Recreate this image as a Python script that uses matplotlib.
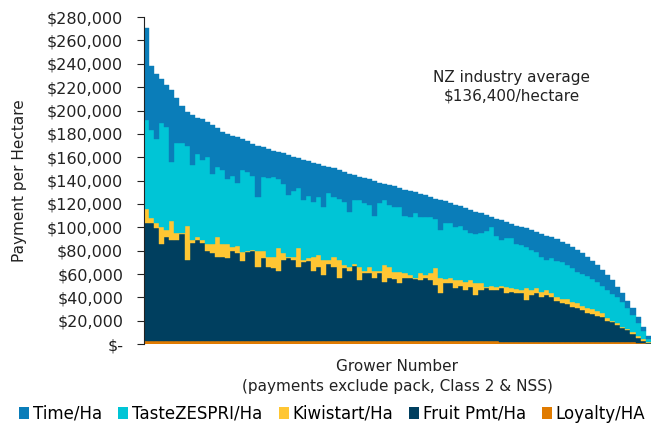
import numpy as np
import matplotlib
matplotlib.use("Agg")
import matplotlib.pyplot as plt
from matplotlib.patches import Patch
from matplotlib.ticker import FuncFormatter

# payment per hectare by grower, sorted by total ($000/ha)
time_ha = [79, 55, 55, 38, 36, 62, 39, 32, 29, 43, 31, 34.5, 30, 41.5, 33, 33, 39, 34, 39, 26.5,
           26.5, 27.5, 44, 25.5, 25, 22.5, 23.5, 26.5, 34, 29.5, 25, 34.5, 29.5, 33.5, 28, 35.5, 22.5, 24.5, 25, 25.5,
           33, 22, 20.5, 21.5, 22, 29.5, 17, 14, 17, 18, 16.5, 22, 22, 18, 19.5, 18.5, 17, 17.5, 25.5, 18.5,
           17, 19.5, 17, 18.5, 20, 19.5, 17, 13.5, 9, 14.5, 17, 13.5, 12, 15.5, 15, 16, 16.5, 17, 19.5, 21,
           17.5, 19, 17.5, 17.5, 18.5, 18.5, 18, 16.5, 15.5, 14.5, 13.5, 13.5, 12, 9, 7.5, 6, 6, 5, 4, 3]
taste_ha = [76, 75, 72, 89, 88, 51, 77, 77, 69, 64, 71, 69, 74, 60, 60, 63, 55, 61, 54, 70,
            67, 63, 46, 63, 67, 68, 59, 59, 53, 56, 52, 51, 53, 47, 50, 45, 57, 51, 52, 54,
            47, 54, 57, 58, 53, 47, 58, 55, 53, 55, 55, 49, 50, 55, 48, 50, 48, 42, 41, 48,
            47, 45, 46, 45, 40, 42, 43, 48, 50, 44, 39, 42, 43, 39, 39, 35, 35, 31, 30, 26,
            30, 31, 31, 29, 29, 27, 27, 27, 26, 25, 23, 24, 23, 22, 21, 18, 15, 11, 7, 2.5]
kiwistart_ha = [12, 4, 5, 14, 6, 16, 6, 1, 29, 2, 3, 2, 6, 8, 17, 11, 12, 3, 6, 8,
                1, 1, 14, 6, 9, 10, 19, 6, 1, 3, 16, 2, 3, 12, 10, 13, 3, 9, 15, 3,
                3, 2, 11, 2, 5, 6, 2, 15, 9, 6, 10, 4, 2, 1, 6, 2, 6, 14, 13, 4,
                5, 7, 5, 7, 6, 10, 6, 1, 4, 3, 2, 5, 3, 3, 2, 10, 4, 4, 5, 4,
                4, 3, 4, 5, 4, 4, 4, 4, 4, 4, 4, 2, 1, 1.5, 1, 1, 1.5, 1.5, 1, 0.5]
fruit_ha = [101, 101, 96, 83, 89, 86, 86, 91, 69, 84, 86, 84, 77, 75, 72, 72, 71, 77, 75, 68,
            76, 77, 63, 71, 63, 62, 60, 69, 71, 69, 63.5, 67.5, 68.5, 60.5, 63.5, 56.5, 66.5, 63.5, 54.5, 62.5,
            60.5, 64.5, 52.5, 58.5, 58.5, 54.5, 58.5, 50.5, 54.5, 53.5, 49.5, 54.5, 54.5, 53.5, 52.5, 54.5, 52.5, 48.5, 41.5, 49.5,
            49.5, 45.5, 47.5, 43.5, 46.5, 39.5, 43.5, 45.5, 43.5, 43.5, 46, 42, 43, 42, 42, 36, 40, 42, 38, 40,
            38, 35, 33, 32, 30, 29, 27, 25, 24, 22, 21, 18, 17, 14.5, 12, 10.2, 7, 4.3, 2.2, 0.5]
loyalty_ha = [3] * 30 + [2.5] * 40 + [2] * 25 + [1.8, 1.5, 1.2, 0.8, 0.5]

series = [
    ("Loyalty/HA", loyalty_ha, "#E07B00"),
    ("Fruit Pmt/Ha", fruit_ha, "#003F5F"),
    ("Kiwistart/Ha", kiwistart_ha, "#FFC633"),
    ("TasteZESPRI/Ha", taste_ha, "#00C5D6"),
    ("Time/Ha", time_ha, "#0A7DB9"),
]

plt.rcParams['font.family'] = ['DejaVu Sans']
fig = plt.figure(figsize=(6.62, 4.28), dpi=100)
ax = fig.add_axes([0.2175, 0.196, 0.7655, 0.764])

growers = np.arange(len(time_ha))
bottom = np.zeros(len(growers))
for name, vals, col in series:
    v = np.array(vals) * 1000
    ax.bar(growers, v, bottom=bottom, width=1.0, align='edge', color=col,
           edgecolor=col, linewidth=0.3, label=name)
    bottom += v

ax.set_xlim(0, len(growers))
ax.set_ylim(0, 280000)
ax.set_yticks(np.arange(0, 280001, 20000))
ax.yaxis.set_major_formatter(FuncFormatter(lambda v, p: "$-" if v == 0 else "${:,.0f}".format(v)))
ax.tick_params(axis='y', labelsize=11.5, length=5, colors='#222222', pad=10)
ax.tick_params(axis='x', bottom=False, labelbottom=False)
for s in ['top', 'right', 'bottom']:
    ax.spines[s].set_visible(False)
ax.spines['left'].set_color('#222222')

ax.set_ylabel("Payment per Hectare", fontsize=11, color='#222222')
ax.yaxis.set_label_coords(-0.23, 0.5)
ax.set_xlabel("Grower Number\n(payments exclude pack, Class 2 & NSS)", fontsize=11,
              color='#222222', labelpad=11, linespacing=1.4)

ax.text(72.6, 220000, "NZ industry average\n$136,400/hectare", ha='center', va='center',
        fontsize=11, color='#222222', linespacing=1.3)

order = ["Time/Ha", "TasteZESPRI/Ha", "Kiwistart/Ha", "Fruit Pmt/Ha", "Loyalty/HA"]
cols = {name: col for name, _, col in series}
handles = [Patch(facecolor=cols[n], label=n) for n in order]
fig.legend(handles=handles, loc='center', bbox_to_anchor=(0.502, 0.033), ncol=5, frameon=False,
           fontsize=12, handlelength=0.6, handleheight=0.75, handletextpad=0.2,
           columnspacing=1.0, borderpad=0)

fig.savefig("out.png", dpi=100)
